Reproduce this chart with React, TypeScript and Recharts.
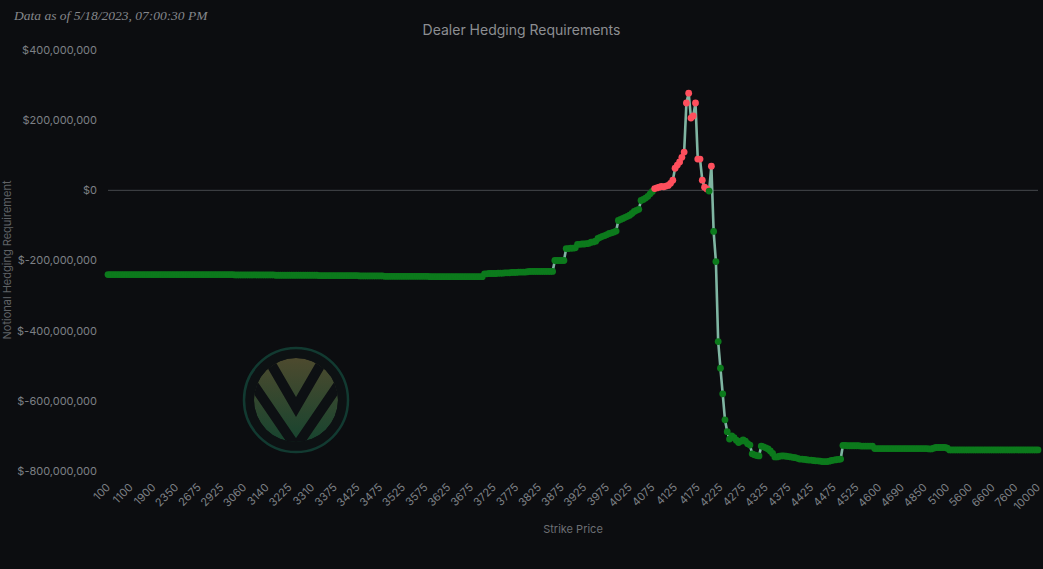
import React from "react"
import { LineChart, Line, XAxis, YAxis, ReferenceLine } from "recharts"

const FONT = "Inter, 'Open Sans', sans-serif"
const BG = "#0c0d10"

// strike ladder, one row per labelled tick (every 10th category is shown)
const strikes: number[] = [
  100, 200, 300, 400, 500, 600, 700, 800, 900, 1000,
  1100, 1200, 1300, 1400, 1500, 1600, 1700, 1750, 1800, 1850,
  1900, 1950, 2000, 2050, 2100, 2150, 2200, 2250, 2300, 2325,
  2350, 2375, 2400, 2425, 2450, 2500, 2550, 2600, 2625, 2650,
  2675, 2700, 2725, 2750, 2775, 2800, 2825, 2850, 2875, 2900,
  2925, 2950, 2975, 3000, 3010, 3020, 3025, 3030, 3040, 3050,
  3060, 3070, 3075, 3080, 3090, 3100, 3110, 3120, 3125, 3130,
  3140, 3150, 3160, 3170, 3175, 3180, 3190, 3200, 3210, 3220,
  3225, 3230, 3240, 3250, 3260, 3270, 3275, 3280, 3290, 3300,
  3310, 3320, 3325, 3330, 3335, 3340, 3345, 3350, 3360, 3370,
  3375, 3380, 3385, 3390, 3395, 3400, 3405, 3410, 3415, 3420,
  3425, 3430, 3435, 3440, 3445, 3450, 3455, 3460, 3465, 3470,
  3475, 3480, 3485, 3490, 3495, 3500, 3505, 3510, 3515, 3520,
  3525, 3530, 3535, 3540, 3545, 3550, 3555, 3560, 3565, 3570,
  3575, 3580, 3585, 3590, 3595, 3600, 3605, 3610, 3615, 3620,
  3625, 3630, 3635, 3640, 3645, 3650, 3655, 3660, 3665, 3670,
  3675, 3680, 3685, 3690, 3695, 3700, 3705, 3710, 3715, 3720,
  3725, 3730, 3735, 3740, 3745, 3750, 3755, 3760, 3765, 3770,
  3775, 3780, 3785, 3790, 3795, 3800, 3805, 3810, 3815, 3820,
  3825, 3830, 3835, 3840, 3845, 3850, 3855, 3860, 3865, 3870,
  3875, 3880, 3885, 3890, 3895, 3900, 3905, 3910, 3915, 3920,
  3925, 3930, 3935, 3940, 3945, 3950, 3955, 3960, 3965, 3970,
  3975, 3980, 3985, 3990, 3995, 4000, 4005, 4010, 4015, 4020,
  4025, 4030, 4035, 4040, 4045, 4050, 4055, 4060, 4065, 4070,
  4075, 4080, 4085, 4090, 4095, 4100, 4105, 4110, 4115, 4120,
  4125, 4130, 4135, 4140, 4145, 4150, 4155, 4160, 4165, 4170,
  4175, 4180, 4185, 4190, 4195, 4200, 4205, 4210, 4215, 4220,
  4225, 4230, 4235, 4240, 4245, 4250, 4255, 4260, 4265, 4270,
  4275, 4280, 4285, 4290, 4295, 4300, 4305, 4310, 4315, 4320,
  4325, 4330, 4335, 4340, 4345, 4350, 4355, 4360, 4365, 4370,
  4375, 4380, 4385, 4390, 4395, 4400, 4405, 4410, 4415, 4420,
  4425, 4430, 4435, 4440, 4445, 4450, 4455, 4460, 4465, 4470,
  4475, 4480, 4485, 4490, 4495, 4500, 4505, 4510, 4515, 4520,
  4525, 4530, 4535, 4540, 4545, 4550, 4560, 4570, 4575, 4580,
  4600, 4610, 4620, 4625, 4630, 4640, 4650, 4660, 4675, 4680,
  4690, 4700, 4710, 4720, 4725, 4750, 4775, 4800, 4825, 4830,
  4850, 4875, 4900, 4925, 4950, 4975, 5000, 5025, 5050, 5075,
  5100, 5150, 5200, 5250, 5300, 5350, 5400, 5450, 5500, 5550,
  5600, 5700, 5800, 5900, 6000, 6100, 6200, 6300, 6400, 6500,
  6600, 6700, 6800, 6900, 7000, 7100, 7200, 7300, 7400, 7500,
  7600, 7700, 7800, 7900, 8000, 8200, 8400, 8600, 9000, 9500,
  10000,
]

// notional hedging requirement, $ millions, same rows as strikes
const hedging: number[] = [
  -240, -240, -240, -240, -240, -240, -240, -240, -240, -240,
  -240, -240, -240, -240, -240, -240, -240, -240, -240, -240,
  -240, -240, -240, -240, -240, -240, -240, -240, -240, -240,
  -240, -240, -240, -240, -240, -240, -240, -240, -240, -240,
  -240, -240, -240, -240, -240, -240, -240, -240, -240, -240,
  -240, -240, -240, -240, -240, -240, -241, -241, -241, -241,
  -241, -241, -241, -241, -241, -241, -241, -241, -241, -241,
  -241, -241, -241, -241, -242, -242, -242, -242, -242, -242,
  -242, -242, -242, -242, -242, -242, -242, -242, -242, -242,
  -242, -242, -242, -243, -243, -243, -243, -243, -243, -243,
  -243, -243, -243, -243, -243, -243, -243, -243, -243, -243,
  -243, -244, -244, -244, -244, -244, -244, -244, -244, -244,
  -244, -244, -245, -245, -245, -245, -245, -245, -245, -245,
  -245, -245, -245, -245, -245, -245, -245, -245, -245, -245,
  -245, -245, -246, -246, -246, -246, -246, -246, -246, -246,
  -246, -246, -246, -246, -246, -246, -246, -246, -246, -246,
  -246, -246, -246, -246, -246, -246, -238, -238, -237, -237,
  -237, -237, -236, -236, -236, -235, -235, -235, -234, -234,
  -234, -233, -233, -233, -233, -232, -231, -231, -231, -231,
  -231, -231, -231, -231, -231, -231, -231, -200, -200, -200,
  -200, -200, -166, -166, -165, -165, -164, -154, -154, -153,
  -153, -152, -151, -148, -147, -145, -137, -134, -131, -129,
  -126, -123, -121, -119, -116, -86, -83, -80, -77, -74,
  -71, -66, -60, -57, -54, -29, -26, -22, -17, -10,
  -3, 5, 7, 9, 11, 10, 12, 14, 20, 29,
  63, 72, 81, 94, 109, 249, 277, 206, 212, 249,
  89, 89, 29, 9, 4, -2, 69, -117, -203, -431,
  -507, -580, -654, -688, -709, -700, -705, -712, -719, -715,
  -711, -715, -722, -726, -751, -754, -756, -757, -729, -731,
  -734, -737, -743, -750, -760, -760, -758, -757, -757, -758,
  -759, -760, -761, -762, -764, -766, -766, -767, -768, -769,
  -769, -770, -771, -771, -772, -773, -773, -773, -772, -770,
  -769, -768, -767, -766, -727, -727, -728, -728, -728, -728,
  -728, -728, -729, -729, -729, -729, -729, -729, -736, -736,
  -736, -736, -736, -736, -736, -736, -736, -736, -736, -736,
  -736, -736, -736, -736, -736, -736, -736, -736, -736, -736,
  -736, -736, -737, -737, -735, -733, -733, -733, -733, -733,
  -735, -740, -740, -740, -740, -740, -740, -740, -740, -740,
  -740, -740, -740, -740, -740, -740, -740, -740, -740, -740,
  -740, -740, -740, -740, -740, -740, -740, -740, -740, -740,
  -740, -740, -740, -740, -740, -740, -740, -740, -740, -740,
  -740,
]

const yTicks = [-800, -600, -400, -200, 0, 200, 400]

const rows = strikes.map((s, i) => ({ strike: String(s), value: hedging[i] }))

const fmtMoney = (v: number) => `$${(v * 1e6).toLocaleString("en-US")}`

// eslint-disable-next-line @typescript-eslint/no-explicit-any
function StrikeTick({ x, y, payload }: any) {
  return (
    <g transform={`translate(${x + 3},${y + 9})`}>
      <text textAnchor="end" transform="rotate(-45)" fontFamily={FONT} fontSize={11} fill="#7d8085">
        {payload.value}
      </text>
    </g>
  )
}

// eslint-disable-next-line @typescript-eslint/no-explicit-any
function SignDot({ cx, cy, payload, index }: any) {
  if (cx == null || cy == null) return null
  const pos = payload.value > 0
  return <circle key={index} cx={cx} cy={cy} r={3.4} fill={pos ? "#ff4f5d" : "#0c7a1c"} stroke="none" />
}

function Logo() {
  return (
    <svg width={110} height={110} viewBox="0 0 110 110" style={{ position: "absolute", left: 241, top: 345 }}>
      <defs>
        <linearGradient id="logoGrad" x1="0" y1="0" x2="0" y2="1">
          <stop offset="0%" stopColor="#4d4a2e" />
          <stop offset="100%" stopColor="#17442f" />
        </linearGradient>
        <clipPath id="logoClip">
          <circle cx={55} cy={55} r={42} />
        </clipPath>
      </defs>
      <circle cx={55} cy={55} r={52} fill="#0d1113" stroke="#123a31" strokeWidth={2.5} />
      <g clipPath="url(#logoClip)">
        <circle cx={55} cy={55} r={42} fill="url(#logoGrad)" />
        <polyline points="26,12 55,62 84,12" fill="none" stroke="#0d1013" strokeWidth={10} />
        <polyline points="6,30 55,102 104,30" fill="none" stroke="#0d1013" strokeWidth={10} />
      </g>
    </svg>
  )
}

export default function App() {
  return (
    <div style={{ position: "fixed", left: 0, top: 0, width: 1043, height: 569, background: BG, overflow: "hidden" }}>
      <div style={{ position: "absolute", left: 14, top: 8, fontFamily: "'Liberation Serif', 'DejaVu Serif', serif", fontStyle: "italic", fontSize: 13.5, color: "#85878b" }}>
        Data as of 5/18/2023, 07:00:30 PM
      </div>
      <div style={{ position: "absolute", left: 0, width: 1043, top: 21, textAlign: "center", fontFamily: FONT, fontSize: 14, color: "#8c8e92" }}>
        Dealer Hedging Requirements
      </div>
      <div style={{ position: "absolute", left: 7, top: 260, width: 0, height: 0 }}>
        <div style={{ position: "absolute", transform: "translate(-50%,-50%) rotate(-90deg)", whiteSpace: "nowrap", fontFamily: FONT, fontSize: 11, color: "#5f6266" }}>
          Notional Hedging Requirement
        </div>
      </div>
      <div style={{ position: "absolute", left: 108, width: 930, top: 522, textAlign: "center", fontFamily: FONT, fontSize: 11, color: "#6c6f74" }}>
        Strike Price
      </div>
      <Logo />
      <div style={{ position: "absolute", left: 0, top: 0 }}>
        <LineChart width={1043} height={569} data={rows} margin={{ top: 50, right: 5, bottom: 0, left: 0 }}>
          <XAxis
            dataKey="strike"
            interval={9}
            tick={<StrikeTick />}
            tickLine={false}
            axisLine={false}
            height={98}
          />
          <YAxis
            domain={[-800, 400]}
            ticks={yTicks}
            tickFormatter={fmtMoney}
            tick={{ fontFamily: FONT, fontSize: 11, fill: "#7d8085" }}
            tickLine={false}
            axisLine={false}
            tickMargin={5}
            width={108}
          />
          <ReferenceLine y={0} stroke="#45484c" strokeWidth={1} />
          <Line
            type="linear"
            dataKey="value"
            stroke="#7fb5a2"
            strokeWidth={2.6}
            dot={<SignDot />}
            activeDot={false}
            isAnimationActive={false}
          />
        </LineChart>
      </div>
    </div>
  )
}
